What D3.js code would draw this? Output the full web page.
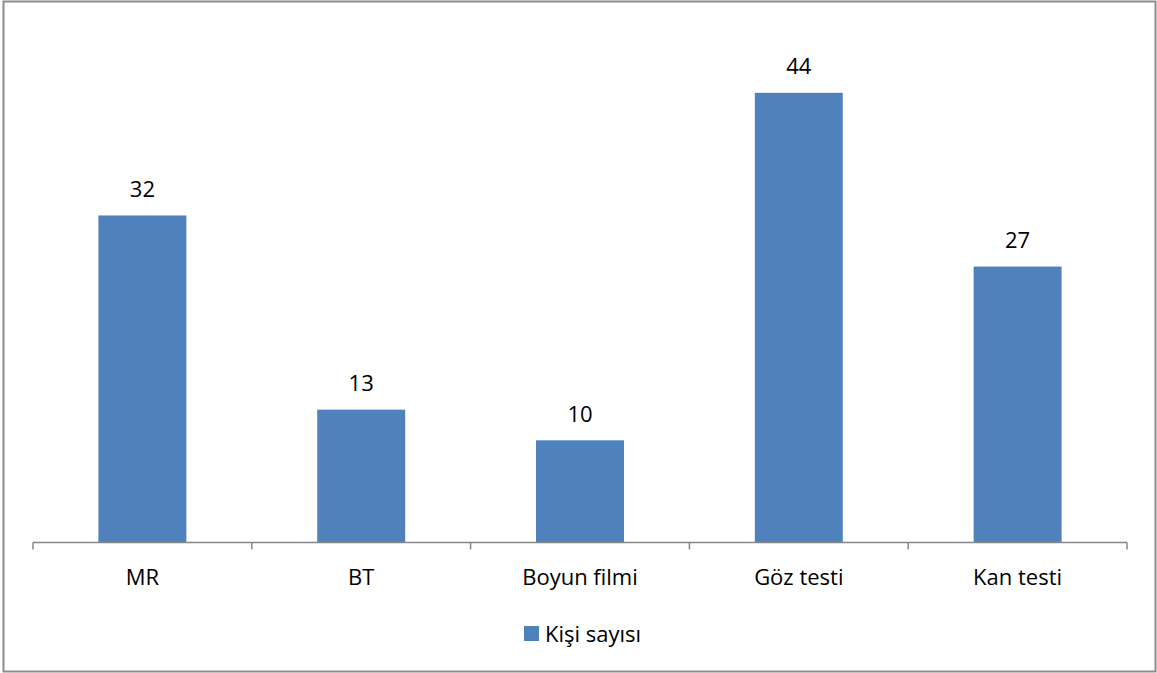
<!DOCTYPE html>
<html>
<head>
<meta charset="utf-8">
<script src="https://cdn.jsdelivr.net/npm/d3@7"></script>
<style>
  html, body { margin: 0; padding: 0; background: #fff; }
  svg { display: block; }
  text { font-family: "Open Sans", "Noto Sans", sans-serif; fill: #000; }
</style>
</head>
<body>
<svg id="chart" width="1157" height="673"></svg>
<script>
// Tetkik türleri ve kişi sayıları
const categories = ["MR", "BT", "Boyun filmi", "Göz testi", "Kan testi"];
const counts = [32, 13, 10, 44, 27];
const seriesName = "Kişi sayısı";

const W = 1157, H = 673;
const margin = { left: 33, right: 30, top: 31.5, bottom: 130.5 };
const barColor = "#4f81bd";
const axisColor = "#878787";
const fontSize = 22;

const svg = d3.select("#chart");

// Outer frame
svg.append("rect")
  .attr("x", 3.5).attr("y", 1.5)
  .attr("width", W - 5).attr("height", H - 3)
  .attr("fill", "#fff")
  .attr("stroke", "#8c8c8c")
  .attr("stroke-width", 2);

const x = d3.scaleBand()
  .domain(categories)
  .range([margin.left, W - margin.right])
  .paddingInner(0.598)
  .paddingOuter(0.299);

const y = d3.scaleLinear()
  .domain([0, 50])
  .range([H - margin.bottom, margin.top]);

const baseY = y(0);

// Bars
svg.append("g").selectAll("rect")
  .data(categories)
  .join("rect")
  .attr("x", d => x(d))
  .attr("y", (d, i) => y(counts[i]))
  .attr("width", x.bandwidth())
  .attr("height", (d, i) => baseY - y(counts[i]))
  .attr("fill", barColor);

// Value labels
svg.append("g").selectAll("text")
  .data(categories)
  .join("text")
  .attr("x", d => x(d) + x.bandwidth() / 2)
  .attr("y", (d, i) => y(counts[i]) - 18.5)
  .attr("text-anchor", "middle")
  .attr("font-size", fontSize)
  .text((d, i) => counts[i]);

// Category axis with tick marks between categories
const axisG = svg.append("g");
const r = x.range();
axisG.append("line")
  .attr("x1", r[0]).attr("x2", r[1])
  .attr("y1", baseY).attr("y2", baseY)
  .attr("stroke", axisColor).attr("stroke-width", 1.5);

const edges = d3.range(categories.length + 1).map(i => r[0] + i * (r[1] - r[0]) / categories.length);
axisG.selectAll("line.tick")
  .data(edges)
  .join("line")
  .attr("class", "tick")
  .attr("x1", d => d).attr("x2", d => d)
  .attr("y1", baseY).attr("y2", baseY + 7)
  .attr("stroke", axisColor).attr("stroke-width", 1.5);

axisG.selectAll("text")
  .data(categories)
  .join("text")
  .attr("x", d => x(d) + x.bandwidth() / 2)
  .attr("y", baseY + 42.5)
  .attr("text-anchor", "middle")
  .attr("font-size", fontSize)
  .text(d => d);

// Legend
const legend = svg.append("g");
legend.append("rect")
  .attr("x", 524).attr("y", 626)
  .attr("width", 15).attr("height", 15)
  .attr("fill", barColor);
legend.append("text")
  .attr("x", 545).attr("y", 642)
  .attr("font-size", fontSize)
  .text(seriesName);
</script>
</body>
</html>
